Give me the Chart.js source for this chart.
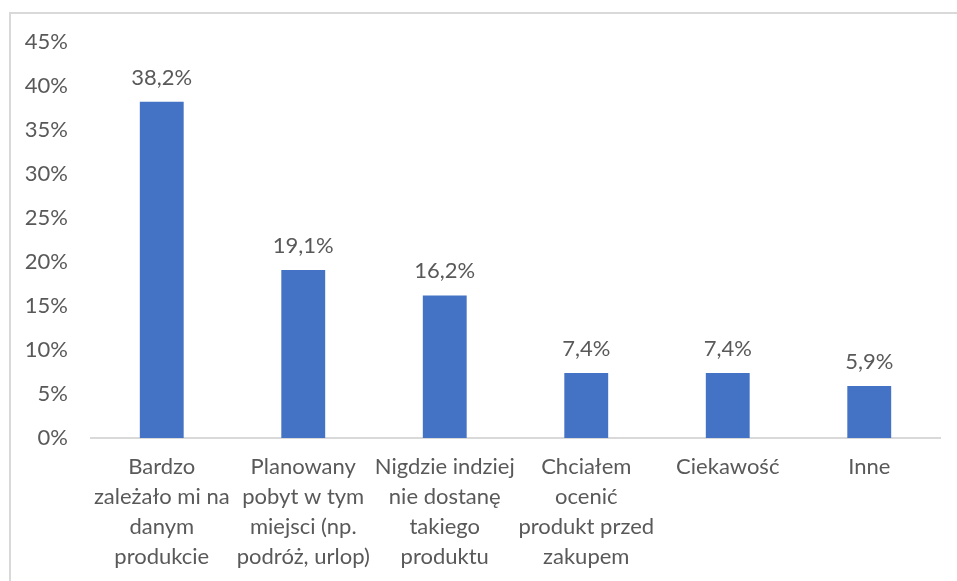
<!DOCTYPE html>
<html>
<head>
<meta charset="utf-8">
<script src="https://cdn.jsdelivr.net/npm/chart.js@4/dist/chart.umd.min.js"></script>
<style>
  html, body { margin: 0; padding: 0; background: #fff; }
  #frame { position: absolute; left: 9px; top: 12px; width: 960px; height: 600px;
           border-left: 2px solid #d9d9d9; border-top: 2px solid #d9d9d9; }
  #wrap { position: absolute; left: 0; top: 0; width: 957px; height: 581px; }
</style>
</head>
<body>
<div id="frame"></div>
<div id="wrap"><canvas id="chart"></canvas></div>
<script>
  const categories = [
    ["Bardzo", "zależało mi na", "danym", "produkcie"],
    ["Planowany", "pobyt w tym", "miejsci (np.", "podróż, urlop)"],
    ["Nigdzie indziej", "nie dostanę", "takiego", "produktu"],
    ["Chciałem", "ocenić", "produkt przed", "zakupem"],
    ["Ciekawość"],
    ["Inne"],
  ];
  const shares = [38.2, 19.1, 16.2, 7.4, 7.4, 5.9];
  const yTicks = [0, 5, 10, 15, 20, 25, 30, 35, 40, 45];

  const textColor = "#595959";
  const fontFamily = "Lato, 'Open Sans', sans-serif";

  function formatPct(value) {
    return value.toFixed(1).replace(".", ",") + "%";
  }

  const valueLabels = {
    id: "valueLabels",
    afterDatasetsDraw(chart) {
      const ctx = chart.ctx;
      const meta = chart.getDatasetMeta(0);
      ctx.save();
      ctx.fillStyle = textColor;
      ctx.font = `22px ${fontFamily}`;
      ctx.textAlign = "center";
      ctx.textBaseline = "alphabetic";
      meta.data.forEach((bar, i) => {
        ctx.fillText(formatPct(shares[i]), bar.x, bar.y - 17);
      });
      ctx.restore();
    },
  };

  new Chart(document.getElementById("chart"), {
    type: "bar",
    data: {
      labels: categories,
      datasets: [{
        data: shares,
        backgroundColor: "#4472C4",
        barPercentage: 0.31,
        categoryPercentage: 1,
      }],
    },
    options: {
      responsive: true,
      maintainAspectRatio: false,
      animation: false,
      layout: { padding: { top: 42, right: 17, left: 0, bottom: 0 } },
      plugins: { legend: { display: false }, tooltip: { enabled: false } },
      scales: {
        x: {
          grid: { display: false, drawTicks: false },
          border: { display: true, color: "#d9d9d9", width: 2 },
          ticks: {
            color: textColor,
            padding: 14,
            maxRotation: 0,
            autoSkip: false,
            font: { family: fontFamily, size: 22, lineHeight: 30 / 22 },
          },
          afterFit(scale) { scale.height = 143; },
        },
        y: {
          min: 0,
          max: 45,
          grid: { display: false, drawTicks: false },
          border: { display: false },
          afterBuildTicks(scale) { scale.ticks = yTicks.map((v) => ({ value: v })); },
          ticks: {
            color: textColor,
            padding: 23,
            font: { family: fontFamily, size: 22 },
            callback: (v) => v + "%",
          },
          afterFit(scale) { scale.width = 91; },
        },
      },
    },
    plugins: [valueLabels],
  });
</script>
</body>
</html>
